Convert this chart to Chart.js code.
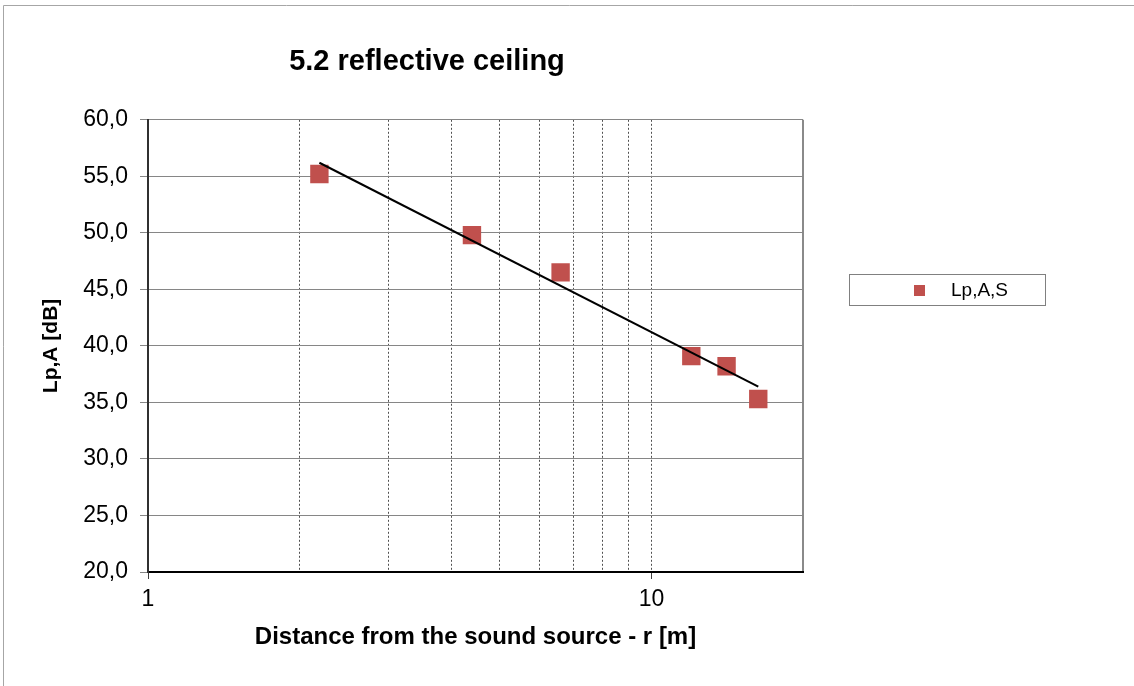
<!DOCTYPE html>
<html>
<head>
<meta charset="utf-8">
<script src="https://cdn.jsdelivr.net/npm/chart.js@4/dist/chart.umd.min.js"></script>
<style>
  html, body { margin: 0; padding: 0; background: #fff; }
  #wrap { width: 1134px; height: 686px; position: relative; }
</style>
</head>
<body>
<div id="wrap"><canvas id="chart" width="1134" height="686"></canvas></div>
<script>
// measured values (distance in m, level in dB)
const distances = [2.19, 4.40, 6.60, 12.0, 14.1, 16.3];
const levels = [55.2, 49.8, 46.5, 39.1, 38.2, 35.3];
// log trendline end points
const trendX = [2.19, 16.3];
const trendY = [56.2, 36.4];
const xTicks = [1, 2, 3, 4, 5, 6, 7, 8, 9, 10, 20];
const xLabels = [1, 10];

const FONT = '"Liberation Sans", Arial, sans-serif';
const pointColor = '#C0504D';

// frame, title position and the boxed legend
const decor = {
  id: 'decor',
  afterLayout(chart) {
    chart.titleBlock.left = 0;
    chart.titleBlock.right = 854;
  },
  beforeDraw(chart) {
    const ctx = chart.ctx;
    ctx.save();
    ctx.fillStyle = '#fff';
    ctx.fillRect(0, 0, chart.width, chart.height);
    ctx.strokeStyle = '#a6a6a6';
    ctx.lineWidth = 1;
    ctx.beginPath();
    ctx.moveTo(3.5, chart.height + 5);
    ctx.lineTo(3.5, 5.5);
    ctx.lineTo(chart.width + 5, 5.5);
    ctx.stroke();
    ctx.restore();
  },
  afterDraw(chart) {
    const ctx = chart.ctx;
    const ds = chart.data.datasets[1];
    ctx.save();
    ctx.strokeStyle = '#808080';
    ctx.lineWidth = 1;
    ctx.strokeRect(849.5, 274.5, 196, 31);
    ctx.fillStyle = ds.backgroundColor;
    ctx.fillRect(914, 285, 11, 11);
    ctx.fillStyle = '#000';
    ctx.font = '19px ' + FONT;
    ctx.textBaseline = 'middle';
    ctx.fillText(ds.label, 951, 291);
    ctx.restore();
  }
};

new Chart(document.getElementById('chart'), {
  type: 'scatter',
  data: {
    datasets: [
      {
        label: 'trend',
        data: trendX.map((x, i) => ({ x: x, y: trendY[i] })),
        showLine: true,
        borderColor: '#000',
        borderWidth: 2,
        pointRadius: 0,
        tension: 0
      },
      {
        label: 'Lp,A,S',
        data: distances.map((x, i) => ({ x: x, y: levels[i] })),
        backgroundColor: pointColor,
        borderColor: pointColor,
        borderWidth: 0,
        pointStyle: 'rect',
        pointRadius: 13,
        pointHoverRadius: 13
      }
    ]
  },
  options: {
    responsive: false,
    animation: false,
    layout: { padding: { left: 0, top: 0, right: 331, bottom: 0 } },
    plugins: {
      legend: { display: false },
      tooltip: { enabled: false },
      title: {
        display: true,
        text: '5.2 reflective ceiling',
        color: '#000',
        font: { family: FONT, size: 29, weight: 'bold' },
        padding: { top: 45, bottom: 40 }
      }
    },
    scales: {
      x: {
        type: 'logarithmic',
        min: 1,
        max: 20,
        afterBuildTicks: s => { s.ticks = xTicks.map(v => ({ value: v })); },
        afterFit: s => { s.height = 114; },
        ticks: {
          autoSkip: false,
          maxRotation: 0,
          padding: 7,
          color: '#000',
          font: { family: FONT, size: 23 },
          callback: v => xLabels.includes(v) ? String(v) : ''
        },
        grid: {
          color: c => (c.tick && c.tick.value === 20) ? '#8a8a8a' : '#505050',
          lineWidth: c => (c.tick && c.tick.value === 20) ? 2 : 1,
          tickLength: 7,
          tickColor: c => (c.tick && xLabels.includes(c.tick.value)) ? '#404040' : 'rgba(0,0,0,0)'
        },
        border: {
          color: '#000',
          width: 2,
          dash: c => (c.tick && c.tick.value !== 20) ? [2, 2] : []
        },
        title: {
          display: true,
          text: 'Distance from the sound source - r [m]',
          color: '#000',
          font: { family: FONT, size: 24, weight: 'bold' },
          padding: { top: 0, bottom: 34 }
        }
      },
      y: {
        min: 20,
        max: 60,
        afterFit: s => { s.width = 148; },
        ticks: {
          stepSize: 5,
          padding: 12,
          color: '#000',
          font: { family: FONT, size: 23 },
          callback: v => v.toFixed(1).replace('.', ',')
        },
        grid: {
          color: '#868686',
          lineWidth: 1,
          tickLength: 8,
          tickColor: '#868686'
        },
        border: { color: '#303030', width: 2 },
        title: {
          display: true,
          text: 'Lp,A [dB]',
          color: '#000',
          font: { family: FONT, size: 21, weight: 'bold' },
          padding: { top: 39, bottom: 0 }
        }
      }
    }
  },
  plugins: [decor]
});
</script>
</body>
</html>
